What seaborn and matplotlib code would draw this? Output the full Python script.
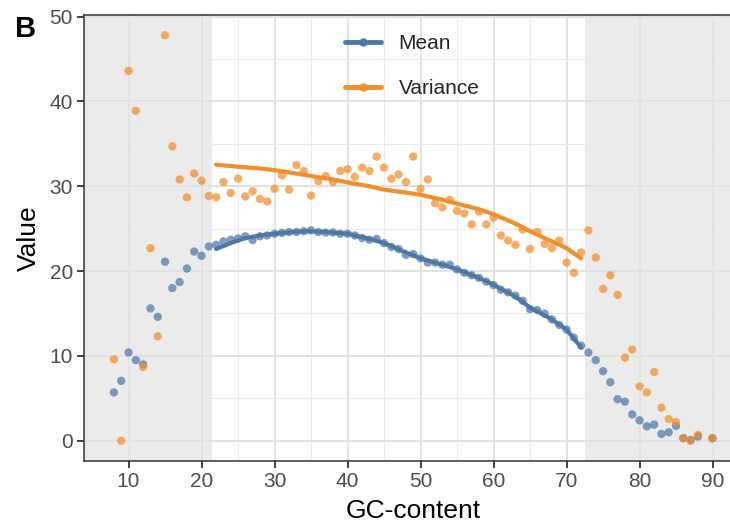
import matplotlib
matplotlib.use("Agg")
import matplotlib.pyplot as plt
from matplotlib.lines import Line2D
from matplotlib.ticker import MultipleLocator
import numpy as np
import pandas as pd
import seaborn as sns

# ---------------- data ----------------
gc = list(range(8, 89)) + [90]

mean_vals = [5.7, 7.06, 10.4, 9.5, 9.0, 15.6, 14.6, 21.1, 18.0, 18.7,
             20.3, 22.3, 21.8, 22.9, 23.1, 23.5, 23.7, 23.85, 24.1, 23.65,
             24.1, 24.2, 24.4, 24.5, 24.6, 24.6, 24.7, 24.8, 24.6, 24.55,
             24.55, 24.4, 24.4, 24.2, 23.9, 23.7, 23.8, 23.3, 22.85, 22.6,
             21.9, 22.0, 21.5, 21.0, 21.0, 20.75, 20.75, 20.2, 19.8, 19.5,
             19.2, 18.75, 18.35, 17.8, 17.5, 17.1, 16.5, 15.5, 15.4, 15.0,
             14.3, 13.65, 13.1, 12.15, 11.2, 10.4, 9.5, 8.2, 6.9, 4.9,
             4.6, 3.1, 2.4, 1.7, 1.9, 0.8, 1.0, 1.75, 0.3, 0.1,
             0.5, 0.3]

var_vals = [9.6, 0.0, 43.6, 38.9, 8.7, 22.7, 12.3, 47.8, 34.7, 30.8,
            28.7, 31.5, 30.65, 28.85, 28.7, 30.5, 29.2, 30.9, 28.8, 29.4,
            28.5, 28.2, 29.7, 31.3, 29.6, 32.5, 31.8, 28.9, 30.6, 31.2,
            30.5, 31.8, 32.0, 31.1, 32.2, 31.8, 33.5, 32.2, 30.9, 31.4,
            30.5, 33.5, 29.7, 30.8, 28.0, 27.5, 28.4, 27.1, 26.8, 25.5,
            27.0, 25.5, 26.3, 24.2, 23.6, 23.1, 24.9, 22.6, 24.6, 23.2,
            22.7, 23.6, 21.0, 19.8, 22.2, 24.8, 21.6, 17.9, 19.5, 17.2,
            9.8, 10.75, 6.4, 5.7, 8.1, 3.9, 2.55, 2.2, 0.3, 0.0,
            0.7, 0.3]

fit_gc_mean = [22, 24, 26, 28, 30, 33, 35, 38, 40, 43, 45, 48, 50, 53, 55,
               58, 60, 63, 65, 68, 70, 72]
fit_mean = [22.6, 23.3, 23.9, 24.2, 24.4, 24.65, 24.7, 24.55, 24.4, 23.8,
            23.3, 22.2, 21.5, 20.75, 20.2, 19.2, 18.4, 17.0, 15.7, 14.3,
            13.1, 11.0]

fit_gc_var = [22, 25, 28, 30, 33, 35, 38, 40, 43, 45, 48, 50, 53, 55, 58,
              60, 63, 65, 68, 70, 72]
fit_var = [32.55, 32.3, 32.1, 31.9, 31.5, 31.2, 30.8, 30.45, 30.0, 29.6,
           29.25, 29.0, 28.4, 27.95, 27.3, 26.7, 25.6, 24.7, 23.5, 22.7,
           21.5]

series_names = ["Mean", "Variance"]
x_ticks = [10, 20, 30, 40, 50, 60, 70, 80, 90]
y_ticks = [0, 10, 20, 30, 40, 50]
shade_low = 21.5
shade_high = 72.5

colors = {"Mean": "#4E79A7", "Variance": "#F28E2B"}

pts = pd.DataFrame({
    "gc": gc + gc,
    "value": mean_vals + var_vals,
    "stat": [series_names[0]] * len(gc) + [series_names[1]] * len(gc),
})
fits = pd.DataFrame({
    "gc": fit_gc_mean + fit_gc_var,
    "value": fit_mean + fit_var,
    "stat": [series_names[0]] * len(fit_gc_mean) + [series_names[1]] * len(fit_gc_var),
})

# ---------------- style ----------------
sns.set_theme(style="white")
plt.rcParams["font.family"] = ["Liberation Sans", "DejaVu Sans"]

W, H = 730, 525
fig = plt.figure(figsize=(W / 100, H / 100), dpi=100)

xlim = (3.9, 94.1)
ylim = (-2.39, 50.19)
left_px, bottom_px, top_px = 84, 461, 15
ppu_x = 7.3
right_px = left_px + (xlim[1] - xlim[0]) * ppu_x
ax = fig.add_axes([left_px / W, (H - bottom_px) / H,
                   (right_px - left_px) / W, (bottom_px - top_px) / H])

ax.set_xlim(*xlim)
ax.set_ylim(*ylim)
ax.set_facecolor("white")

ax.xaxis.set_major_locator(MultipleLocator(10))
ax.xaxis.set_minor_locator(MultipleLocator(5))
ax.yaxis.set_major_locator(MultipleLocator(10))
ax.yaxis.set_minor_locator(MultipleLocator(5))
ax.set_xticks(x_ticks)
ax.set_yticks(y_ticks)
ax.grid(True, which="major", color="#E2E2E2", linewidth=1.4, zorder=0)
ax.grid(True, which="minor", color="#EBEBEB", linewidth=0.8, zorder=0)
ax.set_axisbelow(True)

# shaded regions
ax.axvspan(xlim[0], shade_low, color="#7F7F7F", alpha=0.15, lw=0, zorder=0.5)
ax.axvspan(shade_high, xlim[1], color="#7F7F7F", alpha=0.15, lw=0, zorder=0.5)

sns.scatterplot(data=pts, x="gc", y="value", hue="stat", palette=colors,
                hue_order=series_names, s=36, alpha=0.72, edgecolor="none",
                linewidth=0, legend=False, ax=ax, zorder=2)
sns.lineplot(data=fits, x="gc", y="value", hue="stat", palette=colors,
             hue_order=series_names, linewidth=3.0, legend=False, ax=ax,
             zorder=3, sort=True)

for s in ax.spines.values():
    s.set_color("#333333")
    s.set_linewidth(1.1)

ax.tick_params(axis="both", which="major", direction="out", length=5,
               width=1.3, color="#333333", labelsize=15,
               labelcolor="#4D4D4D", pad=3)
ax.tick_params(axis="both", which="minor", length=0)
ax.tick_params(left=True, bottom=True)

ax.set_xlabel("GC-content", fontsize=19, color="black", labelpad=6)
ax.set_ylabel("Value", fontsize=19, color="black", labelpad=6)

handles = [Line2D([], [], color=colors[n], lw=3.5, marker="o", markersize=5)
           for n in series_names]
ax.legend(handles, series_names, loc="upper left",
          bbox_to_anchor=(0.397, 0.957), frameon=False, fontsize=15,
          handlelength=1.7, handletextpad=0.85, labelspacing=1.24,
          borderpad=0, borderaxespad=0, numpoints=1)

fig.text(15 / W, 1 - 15 / H, "B", fontsize=21, fontweight="bold",
         va="top", ha="left", color="black")

fig.savefig("out.png", dpi=100)
